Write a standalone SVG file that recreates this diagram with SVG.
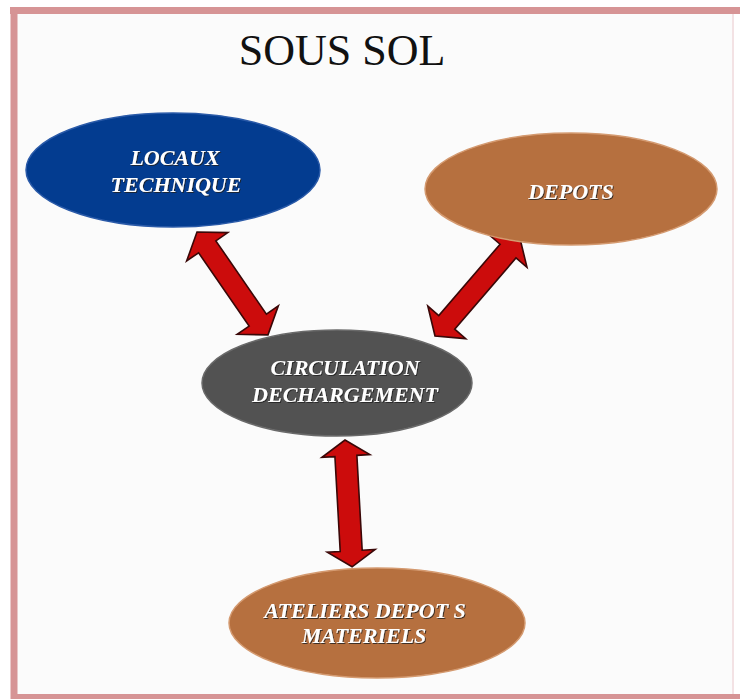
<svg xmlns="http://www.w3.org/2000/svg" width="740" height="699" viewBox="0 0 740 699">
  <defs>
    <filter id="sh" x="-10%" y="-30%" width="120%" height="160%">
      <feDropShadow dx="1" dy="1" stdDeviation="0.6" flood-color="#202020" flood-opacity="0.8"/>
    </filter>
  </defs>
  <style>
    .frame { fill: none; stroke: #d69495; }
    .title { font-family: "Liberation Serif", serif; font-size: 44px; fill: #111111; text-anchor: middle; }
    .lbl { font-family: "Liberation Serif", serif; font-size: 22px; font-weight: bold; font-style: italic; fill: #ffffff; text-anchor: middle; filter: url(#sh); }
    .blue { fill: #033c90; stroke: #2a5aa8; stroke-width: 1.5; }
    .brown { fill: #b6703f; stroke: #d49a70; stroke-width: 1.5; }
    .gray { fill: #525252; stroke: #6a6a6a; stroke-width: 1.5; }
    .arrow { fill: #cc0c0c; stroke: #3a0808; stroke-width: 1.6; stroke-linejoin: miter; }
  </style>
  <rect x="0" y="0" width="740" height="699" fill="#ffffff"/>
  <rect x="14" y="11" width="720" height="685" fill="#fbfbfb"/>
  <g id="frame">
    <line class="frame" x1="10" y1="10.5" x2="740" y2="10.5" stroke-width="7"/>
    <line class="frame" x1="14" y1="7" x2="14" y2="699" stroke-width="7"/>
    <line class="frame" x1="11" y1="696.5" x2="740" y2="696.5" stroke-width="5"/>
    <line x1="733" y1="14" x2="733" y2="694" stroke="#f3e2e4" stroke-width="2"/>
  </g>
  <text class="title" x="342" y="65">SOUS SOL</text>

  <g id="connectors">
    <path class="arrow" transform="translate(197,232) rotate(55.4)" d="M0,0 L18,-25 L18,-10.5 L107,-10.5 L107,-25 L125,0 L107,25 L107,10.5 L18,10.5 L18,25 Z"/>
    <path class="arrow" transform="translate(435,336) rotate(-49.3)" d="M0,0 L18,-25 L18,-10.5 L112,-10.5 L112,-25 L130,0 L112,25 L112,10.5 L18,10.5 L18,25 Z"/>
    <path class="arrow" transform="translate(345,440) rotate(86.8)" d="M0,0 L16,-24 L16,-11 L111,-11 L111,-24 L127,0 L111,24 L111,11 L16,11 L16,24 Z"/>
  </g>

  <g id="locaux">
    <ellipse class="blue" cx="173" cy="170" rx="147" ry="57"/>
    <text class="lbl" x="175" y="165">LOCAUX</text>
    <text class="lbl" x="176" y="192">TECHNIQUE</text>
  </g>
  <g id="depots">
    <ellipse class="brown" cx="571" cy="189" rx="146" ry="56"/>
    <text class="lbl" x="571" y="199">DEPOTS</text>
  </g>
  <g id="circulation">
    <ellipse class="gray" cx="337" cy="383" rx="135" ry="53"/>
    <text class="lbl" x="345" y="375">CIRCULATION</text>
    <text class="lbl" x="345" y="402">DECHARGEMENT</text>
  </g>
  <g id="ateliers">
    <ellipse class="brown" cx="377" cy="623" rx="148" ry="55"/>
    <text class="lbl" x="365" y="618">ATELIERS DEPOT S</text>
    <text class="lbl" x="364" y="643">MATERIELS</text>
  </g>
</svg>
